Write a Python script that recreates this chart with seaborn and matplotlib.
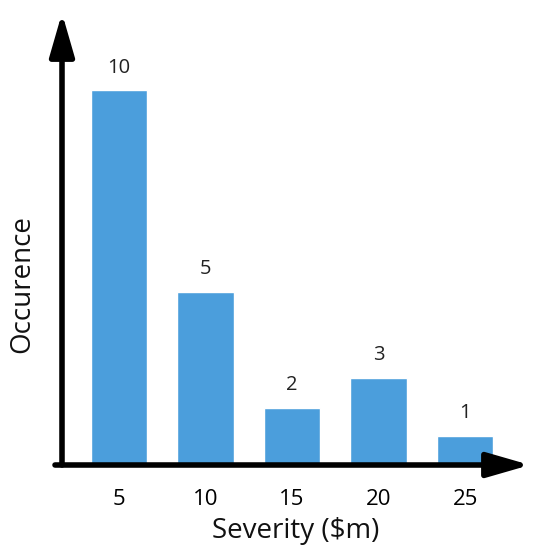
import matplotlib
matplotlib.use('Agg')
import matplotlib.pyplot as plt
import seaborn as sns
import pandas as pd

severity = ['5', '10', '15', '20', '25']
bar_heights = [12.93, 5.97, 1.97, 3.0, 1.0]  # drawn heights
value_labels = ['10', '5', '2', '3', '1']

sns.set_theme(style='white')
plt.rcParams['font.family'] = ['Open Sans', 'DejaVu Sans']

df = pd.DataFrame({'severity': severity, 'height': bar_heights})

W, H = 538, 551
fig = plt.figure(figsize=(W / 100, H / 100), dpi=100)
x0, x1, y0, y1 = 62, 530, 465, 13
ax = fig.add_axes([x0 / W, 1 - y0 / H, (x1 - x0) / W, (y0 - y1) / H])

sns.barplot(data=df, x='severity', y='height', color='#4B9EDC', saturation=1,
            width=0.65, ax=ax)

ax.set_xlim(-0.66, -0.66 + (x1 - x0) / 86.5)
ax.set_ylim(0, (y0 - y1) / 29)

ax.bar_label(ax.containers[0], labels=value_labels, padding=9,
             fontsize=14.5, color='#222222')

for side in ['top', 'right', 'bottom', 'left']:
    ax.spines[side].set_visible(False)
ax.set_yticks([])
ax.tick_params(axis='x', length=0, pad=17, labelsize=16, labelcolor='black')
ax.set_xlabel('Severity ($m)', fontsize=20, color='#111111', labelpad=5)
ax.set_ylabel('Occurence', fontsize=20, color='#111111')
ax.yaxis.set_label_coords(-0.055, 0.40)

arrow = dict(arrowstyle='-|>,head_length=26,head_width=7.5', mutation_scale=1,
             lw=4, color='black', shrinkA=0, shrinkB=0)
ax.annotate('', xy=(0, 1), xytext=(0, 0), xycoords='axes fraction',
            arrowprops=arrow, annotation_clip=False)
ax.annotate('', xy=(1, 0), xytext=(-7 / (x1 - x0), 0), xycoords='axes fraction',
            arrowprops=arrow, annotation_clip=False)

fig.savefig('out.png', dpi=100)
